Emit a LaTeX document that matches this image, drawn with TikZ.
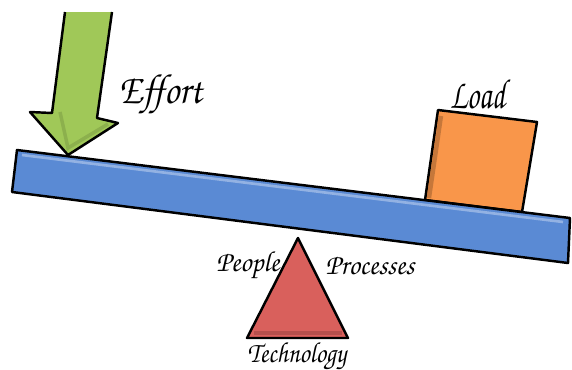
\documentclass[tikz,border=0pt]{standalone}
\usepackage[T1]{fontenc}
\usepackage{tikz}
\usetikzlibrary{calc}
\newcommand{\handfont}{\fontencoding{T1}\fontfamily{pzc}\fontseries{m}\fontshape{it}\selectfont}
\newcommand{\narrow}[2]{\scalebox{#1}[1]{#2}}
\definecolor{beamblue}{RGB}{90,138,212}
\definecolor{effortgreen}{RGB}{160,200,88}
\definecolor{loadorange}{RGB}{249,150,74}
\definecolor{fulcrumred}{RGB}{217,96,92}
\tikzset{
	outline/.style={draw=black, line width=1.4pt, line join=round},
	handtext/.style={font=\handfont\fontsize{24}{26}\selectfont, inner sep=0pt},
	smalltext/.style={font=\handfont\fontsize{16.5}{19}\selectfont, inner sep=0pt}
}

\begin{document}
\begin{tikzpicture}[x=0.02cm, y=-0.02cm]
			%%%%% START %%%%%
			
			\useasboundingbox (0, 0) rectangle (572, 369);
			
			% effort arrow
			\fill[effortgreen] (65, 12) -- (52, 113) -- (30, 112) -- (68, 155) -- (118, 123) -- (97, 118) -- (112, 12) -- cycle;
			\draw[outline] (65, 12) -- (52, 113) -- (30, 112) -- (68, 155) -- (118, 123) -- (97, 118) -- (112, 12);
			\draw[line width=2pt, color=effortgreen!70!black, opacity=0.4] (60, 112) -- (68, 148) -- (108, 124);
			
			% load block
			\draw[outline, fill=loadorange] (438, 110) -- (537, 122) -- (522, 212) -- (425, 200) -- cycle;
			\draw[line width=2.5pt, color=loadorange!60!black, opacity=0.5] (441, 116) -- (429, 198);
			
			% beam
			\draw[outline, fill=beamblue] (17, 150) -- (570, 218) -- (568, 263) -- (12, 192) -- cycle;
			\draw[line width=1.5pt, color=white, opacity=0.35] (22, 155) -- (563, 222);
			
			% fulcrum
			\draw[outline, fill=fulcrumred] (298, 238) -- (348, 338) -- (247, 338) -- cycle;
			\draw[line width=2pt, color=fulcrumred!60!black, opacity=0.4] (254, 333) -- (342, 333);
			
			% labels
			\node[handtext] (effort) at (161, 95) {\narrow{0.88}{Effort}};
			\node[handtext] (load) at (478, 94) {\narrow{0.7}{Load}};
			\node[smalltext] (people) at (248, 266) {\narrow{0.95}{People}};
			\node[smalltext] (processes) at (370, 266) {\narrow{0.95}{Processes}};
			\node[smalltext] (technology) at (297, 357) {\narrow{0.87}{Technology}};
			
			%%%%% END %%%%%
		\end{tikzpicture}
\end{document}
